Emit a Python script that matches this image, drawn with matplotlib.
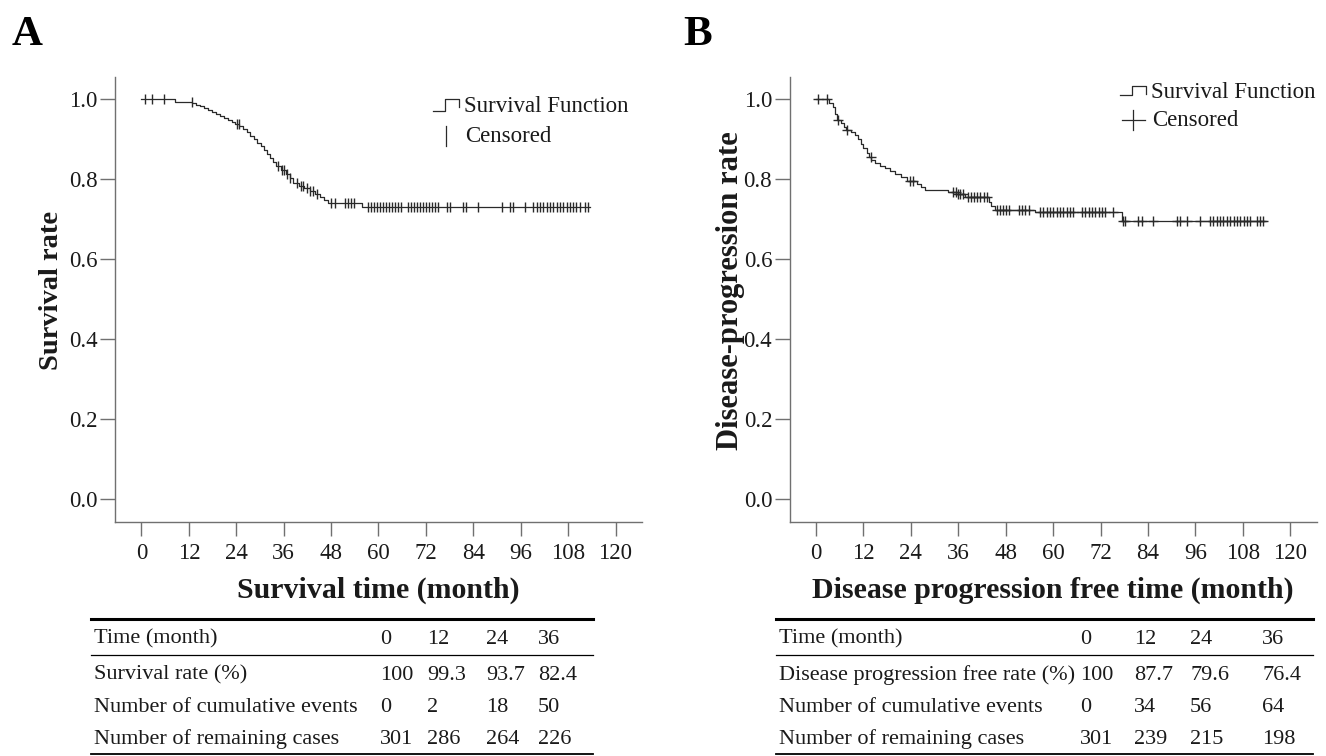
import numpy as np
import matplotlib.pyplot as plt
from matplotlib.lines import Line2D

plt.rcParams['font.family'] = ['Liberation Serif', 'DejaVu Serif']

# ---- panel A: overall survival ----
a_times = [0, 8.5, 12.8, 13.8, 14.8, 15.8, 16.8, 17.8, 18.8, 19.8, 20.8, 21.8, 22.8,
           23.7, 24.8, 25.8, 26.6, 27.5, 28.4, 29.3, 30.2, 31.0, 31.8, 32.6, 33.3, 34.0,
           35.2, 36.6, 37.5, 38.4, 39.8, 41.2, 42.6, 44.0, 45.3, 46.3, 47.3, 55.7]
a_surv = [1.0, 0.993, 0.990, 0.986, 0.982, 0.978, 0.973, 0.969, 0.964, 0.959, 0.953, 0.948, 0.943,
          0.937, 0.932, 0.925, 0.917, 0.908, 0.900, 0.891, 0.882, 0.872, 0.862, 0.852, 0.842, 0.833,
          0.824, 0.814, 0.803, 0.790, 0.784, 0.777, 0.770, 0.763, 0.756, 0.748, 0.740, 0.731]
a_end = 113.5
a_cens = [0.9, 2.6, 5.8, 12.7, 24.1, 24.7, 34.6, 35.5, 36.2, 36.9, 37.7, 39.4, 40.3, 41.0, 41.8,
          42.7, 43.5, 44.4, 48.1, 48.9, 51.6, 52.4, 53.1, 53.8, 57.3, 58.0, 58.8, 59.5, 60.3,
          61.1, 61.8, 62.6, 63.3, 64.1, 64.9, 65.6, 67.5, 68.3, 69.1, 69.8, 70.6, 71.3, 72.1,
          72.9, 73.6, 74.4, 75.1, 77.4, 78.1, 81.5, 82.2, 85.3, 91.2, 93.3, 94.0, 97.1, 99.2,
          100.0, 100.9, 101.7, 102.6, 103.4, 104.2, 105.1, 105.9, 106.8, 107.6, 108.4, 109.3,
          110.1, 111.0, 112.3, 113.1]

# ---- panel B: disease progression free ----
b_times = [0, 3.3, 4.2, 4.8, 5.2, 6.2, 7.0, 7.6, 8.8, 9.8, 10.6, 11.3, 12.0, 12.8, 13.5, 14.0,
           15.0, 16.3, 17.5, 18.8, 20.0, 21.5, 23.0, 25.5, 26.5, 27.7, 33.5, 35.5, 37.8, 43.8,
           44.4, 45.2, 55.4, 77.4]
b_surv = [1.0, 0.990, 0.981, 0.962, 0.948, 0.941, 0.931, 0.924, 0.917, 0.910, 0.900, 0.889,
          0.877, 0.866, 0.855, 0.848, 0.841, 0.834, 0.827, 0.820, 0.813, 0.806, 0.796, 0.789,
          0.781, 0.773, 0.768, 0.764, 0.756, 0.743, 0.733, 0.724, 0.719, 0.695]
b_end = 114.0
b_cens = [0.6, 2.7, 5.5, 7.8, 13.9, 23.9, 24.5, 34.7, 35.3, 35.9, 36.5, 37.2, 38.5, 39.3, 40.0,
          40.8, 41.6, 42.4, 43.2, 45.9, 46.6, 47.3, 48.1, 48.8, 51.4, 52.2, 53.0, 53.9, 56.7,
          57.5, 58.4, 59.2, 60.0, 60.9, 61.7, 62.5, 63.4, 64.2, 65.1, 67.3, 68.1, 69.0, 69.8,
          70.7, 71.5, 72.3, 73.2, 75.2, 77.6, 78.3, 81.6, 82.4, 85.4, 91.3, 92.2, 94.0, 97.2,
          99.7, 100.6, 101.4, 102.3, 103.1, 104.0, 104.8, 105.7, 106.5, 107.4, 108.2, 109.1,
          109.9, 111.6, 112.4, 113.2]

xticks = [0, 12, 24, 36, 48, 60, 72, 84, 96, 108, 120]
yticks = [0.0, 0.2, 0.4, 0.6, 0.8, 1.0]

# ---- tables under the plots ----
tab_cols = ["0", "12", "24", "36"]
tab_a_rows = ["Time (month)", "Survival rate (%)", "Number of cumulative events",
              "Number of remaining cases"]
tab_a_vals = [tab_cols, ["100", "99.3", "93.7", "82.4"], ["0", "2", "18", "50"],
              ["301", "286", "264", "226"]]
tab_b_rows = ["Time (month)", "Disease progression free rate (%)", "Number of cumulative events",
              "Number of remaining cases"]
tab_b_vals = [tab_cols, ["100", "87.7", "79.6", "76.4"], ["0", "34", "56", "64"],
              ["301", "239", "215", "198"]]

W, H = 1326, 756
fig = plt.figure(figsize=(W / 100, H / 100), dpi=100)
TXT = '#1a1a1a'
SPINE = '#707070'


def fxy(px, py):
    return px / W, 1 - py / H


def km_panel(left_px, times, surv, t_end, cens, marker, xlabel, ylabel, ylab_x, ylab_size):
    ax = fig.add_axes([left_px / W, 1 - 522 / H, 527 / W, 445 / H])
    t = np.array(times + [t_end])
    s = np.array(surv + [surv[-1]])
    ax.step(t, s, where='post', color='#2a2a2a', lw=0.9)
    c = np.array(cens)
    idx = np.searchsorted(np.array(times), c, side='right') - 1
    ax.plot(c, np.array(surv)[idx], ls='none', marker=marker, ms=6.5 if marker == '|' else 7,
            mew=1.0, color='#2a2a2a')
    ax.set_xlim(-6.7, 126.7)
    ax.set_ylim(-0.0575, 1.0558)
    ax.set_xticks(xticks)
    ax.set_yticks(yticks)
    ax.set_yticklabels([f"{v:.1f}" for v in yticks])
    for side in ['top', 'right']:
        ax.spines[side].set_visible(False)
    for side in ['left', 'bottom']:
        ax.spines[side].set_color(SPINE)
        ax.spines[side].set_linewidth(1.0)
    ax.tick_params(axis='x', length=10, width=1.0, color=SPINE, labelsize=16.5,
                   labelcolor=TXT, pad=5)
    ax.tick_params(axis='y', length=11, width=1.0, color=SPINE, labelsize=16.5,
                   labelcolor=TXT, pad=1.5)
    ax.set_xlabel(xlabel, fontsize=21.5, fontweight='bold', color=TXT)
    ax.xaxis.set_label_coords(0.5, -0.123)
    ax.set_ylabel(ylabel, fontsize=ylab_size, fontweight='bold', color=TXT)
    ax.yaxis.set_label_coords(ylab_x, 0.52)
    return ax


km_panel(115, a_times, a_surv, a_end, a_cens, '|',
         "Survival time (month)", "Survival rate", -0.097, 20.5)
km_panel(789.6, b_times, b_surv, b_end, b_cens, '+',
         "Disease progression free time (month)", "Disease-progression rate", -0.085, 22)

# panel letters
fig.text(*fxy(12, 45), "A", fontsize=31, fontweight='bold', color='black', va='baseline')
fig.text(*fxy(683, 45), "B", fontsize=31, fontweight='bold', color='black', va='baseline')


# legends (SPSS style step icon)
def legend(x0, y_top, y_low, y_mid1, y_mid2, cens_marker):
    xs = [x0, x0 + 12, x0 + 12, x0 + 26, x0 + 26]
    ys = [y_low, y_low, y_top, y_top, y_top + 8]
    pts = [fxy(a, b) for a, b in zip(xs, ys)]
    fig.add_artist(Line2D([p[0] for p in pts], [p[1] for p in pts], color='#2a2a2a', lw=0.9))
    fig.text(*fxy(x0 + 31, y_mid1), "Survival Function", fontsize=16.5, color=TXT, va='center')
    if cens_marker == '|':
        p1, p2 = fxy(x0 + 13, y_mid2 - 10), fxy(x0 + 13, y_mid2 + 10)
        fig.add_artist(Line2D([p1[0], p2[0]], [p1[1], p2[1]], color='#2a2a2a', lw=0.9))
    else:
        p1, p2 = fxy(x0 + 2, y_mid2), fxy(x0 + 25, y_mid2)
        fig.add_artist(Line2D([p1[0], p2[0]], [p1[1], p2[1]], color='#2a2a2a', lw=0.9))
        p1, p2 = fxy(x0 + 13, y_mid2 - 10), fxy(x0 + 13, y_mid2 + 10)
        fig.add_artist(Line2D([p1[0], p2[0]], [p1[1], p2[1]], color='#2a2a2a', lw=0.9))
    fig.text(*fxy(x0 + 32, y_mid2), "Censored", fontsize=16.5, color=TXT, va='center')


legend(433, 99, 111, 107, 136, '|')
legend(1120, 86, 95, 92, 120, '+')


# tables
def table(x_left, x_right, label_x, col_x, rows, vals):
    for py, lw in [(619, 2.2), (655, 0.9), (754, 1.3)]:
        p1, p2 = fxy(x_left, py), fxy(x_right, py)
        fig.add_artist(Line2D([p1[0], p2[0]], [p1[1], p2[1]], color='black', lw=lw))
    row_y = [639, 675, 707, 739]
    for ry, name, row in zip(row_y, rows, vals):
        fig.text(*fxy(label_x, ry), name, fontsize=16, color=TXT, va='center')
        for cx, v in zip(col_x, row):
            fig.text(*fxy(cx, ry), v, fontsize=16, color=TXT, va='center')


table(91, 593, 94, [380, 427, 486, 538], tab_a_rows, tab_a_vals)
table(776, 1313, 779, [1080, 1134, 1190, 1262], tab_b_rows, tab_b_vals)

fig.savefig("out.png", dpi=100)
